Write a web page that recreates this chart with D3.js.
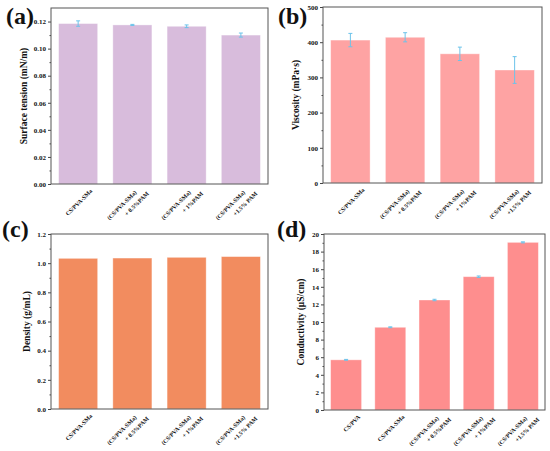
<!DOCTYPE html>
<html>
<head>
<meta charset="utf-8">
<script src="https://cdn.jsdelivr.net/npm/d3@7"></script>
<style>
  body { margin: 0; background: #fff; }
  svg { display: block; }
  text { font-family: "Liberation Serif", "Times New Roman", serif; font-weight: bold; fill: #111; }
</style>
</head>
<body>
<svg id="chart" width="550" height="451"></svg>
<script>
// sample labels (two lines each)
const labelsA = [["CS/PVA-SMa"], ["(CS/PVA-SMa)", "+ 0.5%PAM"], ["(CS/PVA-SMa)", "+ 1%PAM"], ["(CS/PVA-SMa)", "+1.5% PAM"]];
const labelsD = [["CS/PVA"], ["CS/PVA-SMa"], ["(CS/PVA-SMa)", "+ 0.5%PAM"], ["(CS/PVA-SMa)", "+ 1%PAM"], ["(CS/PVA-SMa)", "+1.5% PAM"]];

// (a) surface tension
const tensionValues = [0.1185, 0.1175, 0.1165, 0.1100];
const tensionErrors = [0.0020, 0.0004, 0.0010, 0.0015];
const tensionTicks = [0, 0.02, 0.04, 0.06, 0.08, 0.10, 0.12];

// (b) viscosity
const viscosityValues = [406, 414, 367, 321];
const viscosityErrors = [19, 13, 19, 38];
const viscosityTicks = [0, 100, 200, 300, 400, 500];

// (c) density (no visible error bars)
const densityValues = [1.033, 1.035, 1.040, 1.045];
const densityTicks = [0, 0.2, 0.4, 0.6, 0.8, 1.0, 1.2];

// (d) conductivity
const conductivityValues = [5.7, 9.4, 12.5, 15.15, 19.05];
const conductivityErrors = [0.05, 0.05, 0.08, 0.08, 0.06];
const conductivityTicks = [0, 2, 4, 6, 8, 10, 12, 14, 16, 18, 20];

const svg = d3.select("#chart");

function drawPanel(p) {
    const g = svg.append("g");
    const x = d3.scaleBand()
        .domain(d3.range(p.values.length))
        .range([p.left, p.right])
        .paddingInner(p.padding)
        .paddingOuter(p.padding / 2);
    const y = d3.scaleLinear().domain(p.domain).range([p.bottom, p.top]);

    // bars
    g.selectAll("rect.bar")
        .data(p.values)
        .enter()
        .append("rect")
        .attr("class", "bar")
        .attr("x", (d, i) => x(i))
        .attr("y", d => y(d))
        .attr("width", x.bandwidth())
        .attr("height", d => y(0) - y(d))
        .attr("fill", p.color)
        .attr("stroke", "rgba(255,255,255,0.45)")
        .attr("stroke-width", 0.8);

    // error bars
    if (p.errors) {
        const eb = g.selectAll("g.err")
            .data(p.values)
            .enter()
            .append("g")
            .attr("stroke", "#6cc3ea")
            .attr("stroke-width", 1);
        const cx = (d, i) => x(i) + x.bandwidth() / 2;
        eb.append("line")
            .attr("x1", cx).attr("x2", cx)
            .attr("y1", (d, i) => y(d + p.errors[i]))
            .attr("y2", (d, i) => y(d - p.errors[i]));
        eb.append("line")
            .attr("x1", (d, i) => cx(d, i) - 2)
            .attr("x2", (d, i) => cx(d, i) + 2)
            .attr("y1", (d, i) => y(d + p.errors[i]))
            .attr("y2", (d, i) => y(d + p.errors[i]));
        eb.append("line")
            .attr("x1", (d, i) => cx(d, i) - 2)
            .attr("x2", (d, i) => cx(d, i) + 2)
            .attr("y1", (d, i) => y(d - p.errors[i]))
            .attr("y2", (d, i) => y(d - p.errors[i]));
    }

    // minor ticks
    const step = p.ticks[1] - p.ticks[0];
    const minor = d3.range(p.domain[0] + step / 2, p.domain[1], step);
    g.append("g")
        .attr("transform", `translate(${p.left},0)`)
        .call(d3.axisLeft(y).tickValues(minor).tickSize(1.5).tickFormat(""))
        .call(a => a.select(".domain").remove())
        .selectAll("line").attr("stroke", "#444");

    // y axis
    const ax = g.append("g")
        .attr("transform", `translate(${p.left},0)`)
        .call(d3.axisLeft(y).tickValues(p.ticks).tickSize(3).tickPadding(2).tickFormat(p.format));
    ax.select(".domain").remove();
    ax.selectAll("line").attr("stroke", "#444");
    ax.selectAll("text").style("font-size", "7px").attr("fill", "#111");

    // frame
    g.append("rect")
        .attr("x", p.left)
        .attr("y", p.top)
        .attr("width", p.right - p.left)
        .attr("height", p.bottom - p.top)
        .attr("fill", "none")
        .attr("stroke", "#555")
        .attr("stroke-width", 1);

    // category labels
    const lab = g.selectAll("text.cat")
        .data(p.labels)
        .enter()
        .append("text")
        .attr("class", "cat")
        .attr("transform", (d, i) => `translate(${x(i) + x.bandwidth() / 2},${p.bottom}) rotate(-45)`)
        .attr("text-anchor", "end")
        .style("font-size", "6px");
    lab.each(function(d) {
        const t = d3.select(this);
        if (d.length === 1) {
            t.append("tspan").attr("x", 5).attr("y", 15.5).text(d[0]);
        } else {
            t.append("tspan").attr("x", -3).attr("y", 9.5).text(d[0]);
            t.append("tspan").attr("x", 5).attr("y", 19).text(d[1]);
        }
    });

    // y title
    g.append("text")
        .attr("transform", `translate(${p.left - p.titleOffset},${(p.top + p.bottom) / 2}) rotate(-90)`)
        .attr("text-anchor", "middle")
        .style("font-size", "9.5px")
        .text(p.title);

    // panel letter
    g.append("text")
        .attr("x", p.letterX)
        .attr("y", p.letterY)
        .style("font-size", "24px")
        .text(p.letter);
}

drawPanel({
    values: tensionValues, errors: tensionErrors, labels: labelsA, ticks: tensionTicks,
    domain: [0, 0.13], format: d3.format(".2f"), color: "#d8bcdc",
    left: 51, right: 268, top: 8, bottom: 184, padding: 0.28,
    title: "Surface tension (mN/m)", titleOffset: 24, letter: "(a)", letterX: 6, letterY: 24
});
drawPanel({
    values: viscosityValues, errors: viscosityErrors, labels: labelsA, ticks: viscosityTicks,
    domain: [0, 500], format: d3.format("d"), color: "#fea3a3",
    left: 323, right: 542, top: 7, bottom: 183, padding: 0.28,
    title: "Viscosity (mPa·s)", titleOffset: 24, letter: "(b)", letterX: 278, letterY: 24
});
drawPanel({
    values: densityValues, errors: null, labels: labelsA, ticks: densityTicks,
    domain: [0, 1.2], format: d3.format(".1f"), color: "#f28c5f",
    left: 51, right: 268, top: 234, bottom: 409, padding: 0.28,
    title: "Density (g/mL)", titleOffset: 21, letter: "(c)", letterX: 2, letterY: 237
});
drawPanel({
    values: conductivityValues, errors: conductivityErrors, labels: labelsD, ticks: conductivityTicks,
    domain: [0, 20], format: d3.format("d"), color: "#fe8e8e",
    left: 324, right: 545, top: 234, bottom: 410, padding: 0.3,
    title: "Conductivity (μS/cm)", titleOffset: 20, letter: "(d)", letterX: 277, letterY: 237
});
</script>
</body>
</html>
